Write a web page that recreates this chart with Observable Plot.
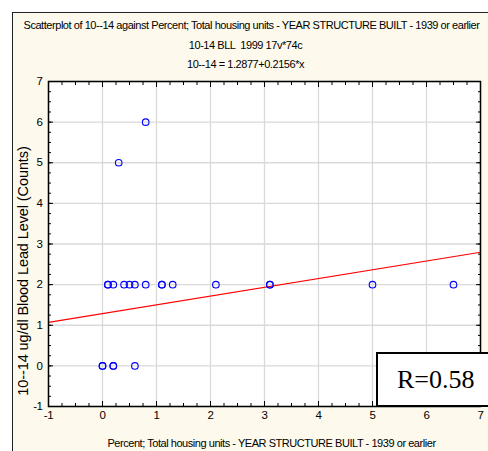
<!DOCTYPE html>
<html>
<head>
<meta charset="utf-8">
<script src="https://cdn.jsdelivr.net/npm/d3@7"></script>
<script src="https://cdn.jsdelivr.net/npm/@observablehq/plot@0.6"></script>
<style>
  html, body { margin: 0; padding: 0; background: #fff; }
  #wrap { position: relative; width: 488px; height: 451px; overflow: hidden; background: #fff; }
  #panel { position: absolute; left: 12px; top: 12px; width: 520px; height: 520px; border: 1px solid #222; background: #fdf9ec; box-sizing: border-box; }
  #chart { position: absolute; left: 0; top: 0; }
  #chart text { letter-spacing: -0.45px; }
  #rbox { position: absolute; left: 376px; top: 352px; width: 130px; height: 55px; border: 2px solid #000; background: #fff; box-sizing: border-box;
          font-family: "Liberation Serif", "Times New Roman", serif; font-size: 26px; line-height: 51px; padding-left: 19px; color: #000; }
</style>
</head>
<body>
<div id="wrap">
  <div id="panel"></div>
  <div id="chart"></div>
  <div id="rbox">R=0.58</div>
</div>
<script>
// ---- data ----
const pctBefore1939 = [0.8, 0.3, 0.1, 0.1, 0.2, 0.4, 0.5, 0.6, 0.8, 1.1, 1.1, 1.3, 2.1, 3.1, 3.1, 5.0, 6.5, 0.0, 0.0, 0.2, 0.2, 0.6];
const bll1014Counts = [6, 5, 2, 2, 2, 2, 2, 2, 2, 2, 2, 2, 2, 2, 2, 2, 2, 0, 0, 0, 0, 0];
const regIntercept = 1.2877;
const regSlope = 0.2156;
const xDomain = [-1, 7];
const yDomain = [-1, 7];
const majorTicks = [-1, 0, 1, 2, 3, 4, 5, 6, 7];
const titleLines = [
  "Scatterplot of 10--14 against Percent; Total housing units - YEAR STRUCTURE BUILT - 1939 or earlier",
  "10-14 BLL  1999 17v*74c",
  "10--14 = 1.2877+0.2156*x"
];
const xLabel = "Percent; Total housing units - YEAR STRUCTURE BUILT - 1939 or earlier";
const yLabel = "10--14 ug/dl Blood Lead Level (Counts)";

const points = pctBefore1939.map((x, i) => ({x, y: bll1014Counts[i]}));
const regLine = xDomain.map(x => ({x, y: regIntercept + regSlope * x}));
const minorTicks = d3.range(xDomain[0], xDomain[1] + 0.001, 0.25);

const font = "'Liberation Sans', Arial, sans-serif";
const blank = () => "";
const plain = d => String(d);

const chart = Plot.plot({
  width: 488,
  height: 451,
  marginLeft: 48,
  marginRight: 8,
  marginTop: 81,
  marginBottom: 45,
  style: {background: "transparent", fontFamily: font, fontSize: "11px", color: "#000"},
  x: {domain: xDomain},
  y: {domain: yDomain},
  marks: [
    Plot.frame({fill: "white"}),
    Plot.gridX(majorTicks, {stroke: "#d9d9d9", strokeOpacity: 1, strokeWidth: 1.3}),
    Plot.gridY(majorTicks, {stroke: "#d9d9d9", strokeOpacity: 1, strokeWidth: 1.3}),
    // tick labels
    Plot.axisX(majorTicks, {anchor: "bottom", tickSize: 0, tickPadding: 4, label: null, fontSize: 11.5, tickFormat: plain}),
    Plot.axisY(majorTicks, {anchor: "left", tickSize: 0, tickPadding: 6, label: null, fontSize: 11.5, tickFormat: plain}),
    // inward ticks on all four sides
    Plot.axisX(majorTicks, {anchor: "bottom", tickSize: -5, tickFormat: blank, label: null}),
    Plot.axisX(minorTicks, {anchor: "bottom", tickSize: -3, tickFormat: blank, label: null}),
    Plot.axisX(majorTicks, {anchor: "top", tickSize: -5, tickFormat: blank, label: null}),
    Plot.axisX(minorTicks, {anchor: "top", tickSize: -3, tickFormat: blank, label: null}),
    Plot.axisY(majorTicks, {anchor: "left", tickSize: -5, tickFormat: blank, label: null}),
    Plot.axisY(minorTicks, {anchor: "left", tickSize: -3, tickFormat: blank, label: null}),
    Plot.axisY(majorTicks, {anchor: "right", tickSize: -5, tickFormat: blank, label: null}),
    Plot.axisY(minorTicks, {anchor: "right", tickSize: -3, tickFormat: blank, label: null}),
    Plot.line(regLine, {x: "x", y: "y", stroke: "#ff0000", strokeWidth: 1.2}),
    Plot.dot(points, {x: "x", y: "y", r: 3.3, stroke: "#0000ff", strokeWidth: 1.1, fill: "none"}),
    Plot.frame({stroke: "#000", strokeWidth: 1.5}),
    // titles
    Plot.text([titleLines[0]], {frameAnchor: "top", dy: -56, dx: -13, lineAnchor: "middle", fontSize: 11, fill: "#000"}),
    Plot.text([titleLines[1]], {frameAnchor: "top", dy: -36, dx: -19, lineAnchor: "middle", fontSize: 11, fill: "#000"}),
    Plot.text([titleLines[2]], {frameAnchor: "top", dy: -17, dx: -19, lineAnchor: "middle", fontSize: 11, fill: "#000"}),
    Plot.text([xLabel], {frameAnchor: "bottom", dy: 37, dx: 7, lineAnchor: "middle", fontSize: 11, fill: "#000"}),
    Plot.text([yLabel], {frameAnchor: "left", dx: -25, dy: 27, rotate: -90, textAnchor: "middle", lineAnchor: "middle", fontSize: 14.5, fill: "#000"})
  ]
});
d3.select(chart).selectAll("text").filter(function() { return this.textContent === yLabel; }).style("letter-spacing", "-0.1px");
document.getElementById("chart").appendChild(chart);
</script>
</body>
</html>
